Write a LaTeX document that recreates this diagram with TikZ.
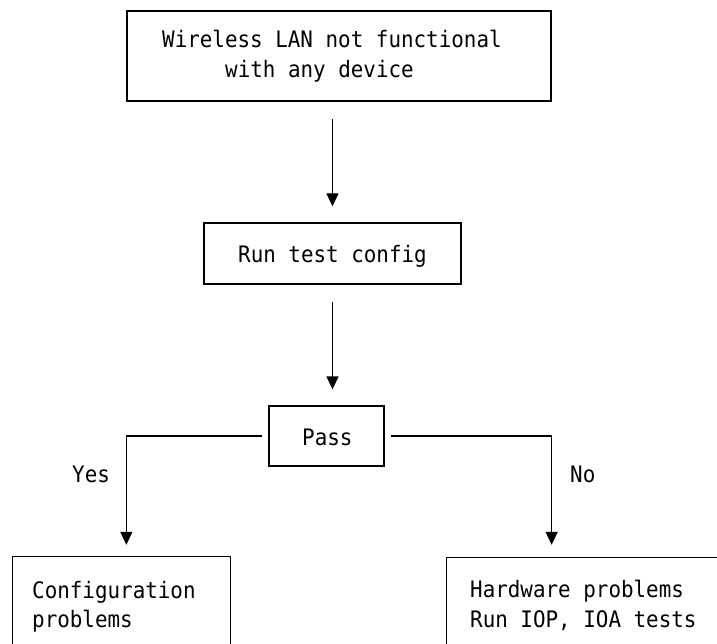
\documentclass[tikz,border=0pt]{standalone}
\usepackage{fontspec}
\newfontfamily\mono[FakeStretch=0.92]{DejaVu Sans Mono}
\usetikzlibrary{arrows.meta}
\begin{document}
\begin{tikzpicture}[x=1pt, y=-1pt,
  rule/.style={line width=1.3pt},
  box/.style={draw, line width=1.3pt, inner sep=0pt},
  openbox/.style={draw=none, inner sep=0pt},
  txt/.style={anchor=base west, inner sep=0pt, font=\mono\fontsize{22.7pt}{30pt}\selectfont},
  arr/.style={line width=1.3pt, -{Triangle[width=12pt,length=13pt]}}]
\fill[white] (0,0) rectangle (717,644);
\useasboundingbox (0,0) rectangle (717,644);

% problem statement
\node[box, minimum width=424pt, minimum height=90pt] (q) at (339,56) {};
\node[txt] (q1) at (162,48) {Wireless LAN not functional};
\node[txt] (q2) at (225,78) {with any device};

% test step
\node[box, minimum width=257pt, minimum height=61pt] (run) at (332.5,253.5) {};
\node[txt] (runt) at (238,262) {Run test config};

% decision
\node[box, minimum width=115pt, minimum height=60pt] (pass) at (326.5,436) {};
\node[txt] (passt) at (302,445) {Pass};

% outcome boxes, running off the lower (and right) edge
\node[openbox, minimum width=217pt, minimum height=87pt] (cfg) at (121.5,600.5) {};
\draw[rule] (cfg.south west) -- (cfg.north west) -- (cfg.north east) -- (cfg.south east);
\node[txt] (cfg1) at (32,598) {Configuration};
\node[txt] (cfg2) at (32,627) {problems};

\node[openbox, minimum width=270pt, minimum height=86pt] (hw) at (582,601) {};
\draw[rule] (hw.south west) -- (hw.north west) -- (hw.north east);
\node[txt] (hw1) at (470,597) {Hardware problems};
\node[txt] (hw2) at (470,627) {Run IOP, IOA tests};

% connectors
\draw[arr] ([yshift=-17pt]q.south -| run.north) -- ([yshift=16pt]run.north);
\draw[arr] ([yshift=-17pt]run.south) -- ([yshift=16pt]pass.north -| run.south);
\draw[arr] ([xshift=-6pt]pass.west) -| ([yshift=12pt]cfg.north -| q.west);
\draw[arr] ([xshift=6pt]pass.east) -| ([yshift=13pt]hw.north -| q.east);

% branch labels
\node[txt] (yes) at (72,482) {Yes};
\node[txt] (no) at (570,482) {No};
\end{tikzpicture}
\end{document}
